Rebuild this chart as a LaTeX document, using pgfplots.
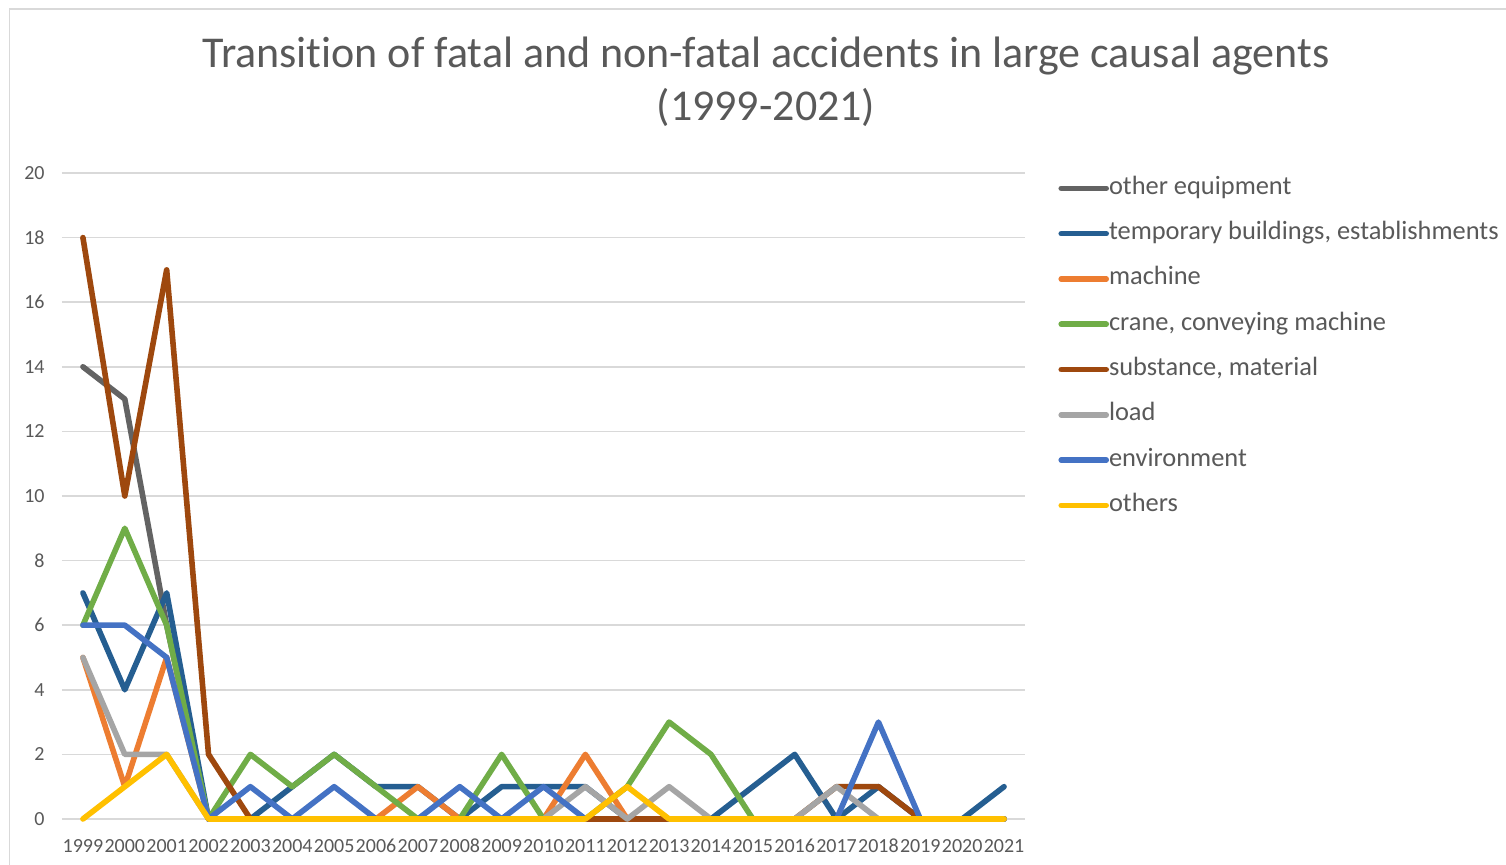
\documentclass[border=0pt]{standalone}
\usepackage{fontspec}
\setmainfont{Carlito}[Ligatures=NoCommon]
\usepackage{pgfplots}
\usepackage{pgfplotstable}
\pgfplotsset{compat=1.18}

\definecolor{tc}{HTML}{595959}
\definecolor{gridc}{HTML}{D9D9D9}
\definecolor{cOE}{HTML}{636363}
\definecolor{cTB}{HTML}{255E91}
\definecolor{cMA}{HTML}{ED7D31}
\definecolor{cCR}{HTML}{70AD47}
\definecolor{cSU}{HTML}{9E480E}
\definecolor{cLO}{HTML}{A5A5A5}
\definecolor{cEN}{HTML}{4472C4}
\definecolor{cOT}{HTML}{FFC000}

% x: 0 = 1999 ... 22 = 2021 (nan = blank cell)
\pgfplotstableread{
x  oe tb ma cr su lo en  ot
0  14 7  5  6  18 5  6   0
1  13 4  1  9  10 2  6   1
2  6  7  5  6  17 2  5   2
3  0  0  0  0  2  0  0   0
4  0  0  0  2  0  0  1   0
5  0  1  0  1  0  0  0   0
6  0  2  0  2  0  0  1   0
7  0  1  0  1  0  0  0   0
8  0  1  1  0  0  0  0   0
9  0  0  0  0  0  0  1   0
10 0  1  0  2  0  0  0   0
11 0  1  0  0  0  0  1   0
12 0  1  2  0  0  1  0   0
13 0  0  0  1  0  0  nan 1
14 0  0  0  3  0  1  0   0
15 0  0  0  2  0  0  0   0
16 0  1  0  0  0  0  0   0
17 0  2  0  0  0  0  0   0
18 0  0  0  0  1  1  0   0
19 0  1  0  0  1  0  3   0
20 0  0  0  0  0  0  0   0
21 0  0  0  0  0  0  0   0
22 0  1  0  0  0  0  0   0
}\data

\begin{document}
\begin{tikzpicture}
\useasboundingbox (0,0) rectangle (753pt,432.5pt);
\fill[white] (0,0) rectangle (753pt,432.5pt);
\draw[gridc, line width=0.8pt] (4.75pt,-5pt) rectangle (760pt,428pt);

\begin{axis}[
    at={(31pt,23pt)}, anchor=south west,
    scale only axis,
    width=481.5pt, height=323pt,
    xmin=-0.5, xmax=22.5,
    ymin=0, ymax=20,
    xtick={0,...,22},
    xticklabels={1999,2000,2001,2002,2003,2004,2005,2006,2007,2008,2009,2010,2011,2012,2013,2014,2015,2016,2017,2018,2019,2020,2021},
    ytick={0,2,...,20},
    ymajorgrids,
    grid style={gridc, line width=0.75pt},
    axis line style={draw=none},
    major tick length=0pt,
    clip=false,
    unbounded coords=jump,
    /pgf/number format/assume math mode=true,
    tick label style={font=\fontsize{10}{12}\selectfont, text=tc},
    xticklabel style={anchor=base, yshift=-17pt, inner sep=0pt},
    yticklabel style={anchor=east, xshift=-8.5pt, inner sep=0pt},
    title={Transition of fatal and non-fatal accidents in large causal agents\\(1999-2021)},
    title style={at={(axis description cs:0.731,1.1223)}, anchor=center, align=center,
        font=\fontsize{22}{26.5}\selectfont, text=tc},
    every axis plot/.append style={line width=2.8pt, line join=round, line cap=round},
    legend image code/.code={\draw[#1] (0pt,0pt) -- (22.5pt,0pt);},
    legend cell align=left,
    legend style={at={(axis description cs:1.0343,0.9954)}, anchor=north west,
        draw=none, fill=none, font=\fontsize{13.2}{15}\selectfont, text=tc,
        inner sep=0pt, row sep=10.65pt, column sep=0pt,
        nodes={inner sep=0pt, text height=9pt, text depth=3pt}},
]
\addplot[cOE] table[x=x,y=oe] {\data};
\addlegendentry{other equipment}
\addplot[cTB] table[x=x,y=tb] {\data};
\addlegendentry{temporary buildings, establishments}
\addplot[cMA] table[x=x,y=ma] {\data};
\addlegendentry{machine}
\addplot[cCR] table[x=x,y=cr] {\data};
\addlegendentry{crane, conveying machine}
\addplot[cSU] table[x=x,y=su] {\data};
\addlegendentry{substance, material}
\addplot[cLO] table[x=x,y=lo] {\data};
\addlegendentry{load}
\addplot[cEN] table[x=x,y=en] {\data};
\addlegendentry{environment}
\addplot[cOT] table[x=x,y=ot] {\data};
\addlegendentry{others}
\end{axis}
\end{tikzpicture}
\end{document}
